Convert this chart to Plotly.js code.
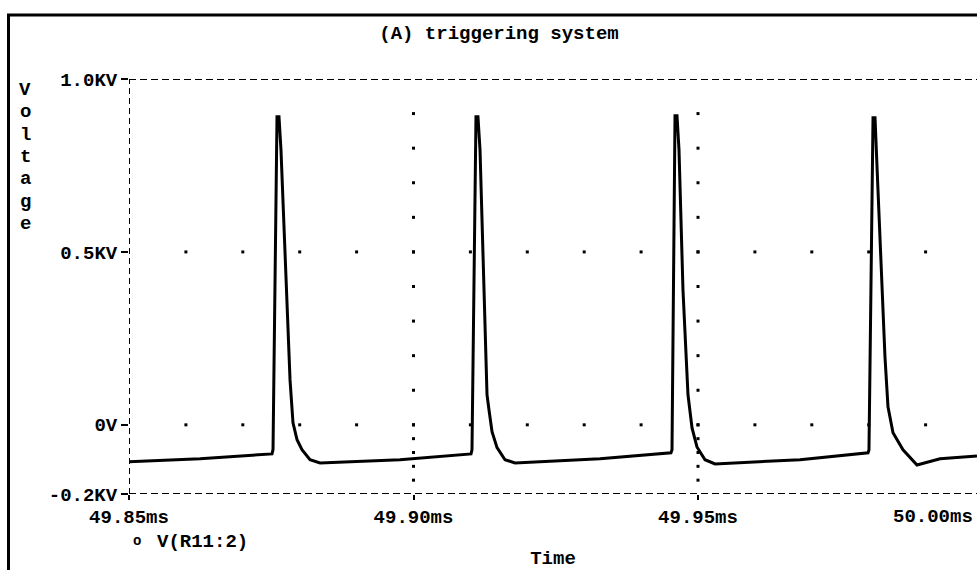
<!DOCTYPE html>
<html>
<head>
<meta charset="utf-8">
<script src="https://cdn.plot.ly/plotly-3.0.1.min.js"></script>
<style>
  html, body { margin: 0; padding: 0; background: #fff; overflow: hidden; }
  #chart { width: 977px; height: 570px; }
</style>
</head>
<body>
<div id="chart"></div>
<script>
// ---- data (time in ms, voltage in kV) ----
const time = [
  49.85000, 49.86248, 49.87513,
  49.87531, 49.87601, 49.87636, 49.87671, 49.87742, 49.87830, 49.87882, 49.87953, 49.88040, 49.88181, 49.88357,
  49.89763, 49.91011,
  49.91028, 49.91098, 49.91133, 49.91169, 49.91239, 49.91292, 49.91327, 49.91380, 49.91468, 49.91608, 49.91784,
  49.93278, 49.94525,
  49.94543, 49.94596, 49.94631, 49.94666, 49.94736, 49.94824, 49.94895, 49.94982, 49.95123, 49.95299,
  49.96793, 49.97988,
  49.98005, 49.98076, 49.98111, 49.98163, 49.98286, 49.98339, 49.98427, 49.98603, 49.98849,
  49.99253, 49.99903
];
const voltage = [
  -0.107, -0.098, -0.084,
  -0.072, 0.891, 0.891, 0.795, 0.500, 0.130, 0.006, -0.043, -0.072, -0.101, -0.110,
  -0.101, -0.084,
  -0.072, 0.891, 0.891, 0.795, 0.390, 0.087, 0.043, -0.020, -0.066, -0.101, -0.110,
  -0.098, -0.081,
  -0.072, 0.894, 0.894, 0.795, 0.390, 0.087, -0.009, -0.064, -0.101, -0.113,
  -0.101, -0.081,
  -0.072, 0.888, 0.888, 0.680, 0.197, 0.052, -0.023, -0.072, -0.116,
  -0.098, -0.090
];

// ---- axis ticks ----
const xTickVals = [49.85, 49.90, 49.95, 50.00];
const xTickText = ['49.85ms', '49.90ms', '49.95ms', '50.00ms'];
const yTickVals = [-0.2, 0, 0.5, 1.0];
const yTickText = ['-0.2KV', '0V', '0.5KV', '1.0KV'];
const xMinorVals = [49.86, 49.87, 49.88, 49.89, 49.90, 49.91, 49.92, 49.93, 49.94, 49.95, 49.96, 49.97, 49.98, 49.99];
const yMinorVals = [0.9, 0.8, 0.7, 0.6, 0.5, 0.4, 0.3, 0.2, 0.1, 0.0, -0.04, -0.08, -0.12, -0.16];
const yGridMajors = [0.5, 0.0];
const xGridMajors = [49.90, 49.95];

const titleText = '(A) triggering system';
const yTitleText = 'Voltage';
const xTitleText = 'Time';
const seriesName = 'V(R11:2)';

// ---- layout geometry ----
const W = 977, H = 570;
const mL = 129, mR = 0, mT = 79, mB = 76;
const plotW = W - mL - mR, plotH = H - mT - mB;
const pxPerMs = 5690;
const xStart = 49.85;
const xEnd = xStart + plotW / pxPerMs;

const FONT = 'Liberation Mono, DejaVu Sans Mono, monospace';
const fs = 19;
const tf = { family: FONT, size: fs, color: '#000', weight: 'bold' };

// grid dots: intersections of major lines with minor divisions
const dotX = [], dotY = [];
yGridMajors.forEach(yv => xMinorVals.forEach(xv => { dotX.push(xv); dotY.push(yv); }));
xGridMajors.forEach(xv => yMinorVals.forEach(yv => { dotX.push(xv); dotY.push(yv); }));

const traces = [
  {
    x: dotX, y: dotY, type: 'scatter', mode: 'markers',
    marker: { symbol: 'square', size: 3, color: '#000' },
    hoverinfo: 'skip', showlegend: false
  },
  {
    x: time, y: voltage, type: 'scatter', mode: 'lines', name: seriesName,
    line: { color: '#000', width: 3 }, showlegend: false
  }
];

const px2paperX = px => (px - mL) / plotW;
const px2paperY = py => (H - mB - py) / plotH;

const shapes = [
  // dashed axes box (left, top, bottom)
  { type: 'line', xref: 'x', yref: 'y', x0: xStart, x1: xStart, y0: -0.2, y1: 1.0,
    line: { color: '#000', width: 2, dash: '6px,4px' } },
  { type: 'line', xref: 'paper', yref: 'y', x0: 0, x1: 1, y0: 1.0, y1: 1.0,
    line: { color: '#000', width: 2, dash: '7px,4px' } },
  { type: 'line', xref: 'paper', yref: 'y', x0: 0, x1: 1, y0: -0.2, y1: -0.2,
    line: { color: '#000', width: 2, dash: '7px,4px' } },
  // outer frame
  { type: 'line', xref: 'paper', yref: 'paper', x0: px2paperX(8.5), x1: px2paperX(8.5), y0: px2paperY(14), y1: px2paperY(572),
    line: { color: '#000', width: 3 } },
  { type: 'line', xref: 'paper', yref: 'paper', x0: px2paperX(7), x1: px2paperX(980), y0: px2paperY(15), y1: px2paperY(15),
    line: { color: '#000', width: 3 } }
];

const annotations = [];
// stacked y-axis title
yTitleText.split('').forEach((ch, i) => {
  annotations.push({
    text: ch, xref: 'paper', yref: 'paper', x: px2paperX(25), y: px2paperY(90 + i * 22.3),
    xanchor: 'center', yanchor: 'middle', showarrow: false, font: tf
  });
});
// last x tick label (its tick lies just beyond the visible edge, so the label is pulled inside)
annotations.push({
  text: xTickText[3], xref: 'paper', yref: 'paper',
  x: px2paperX(975), y: px2paperY(517),
  xanchor: 'right', yanchor: 'middle', showarrow: false, font: tf
});
// legend entry
annotations.push({
  text: 'o', xref: 'paper', yref: 'paper', x: px2paperX(137), y: px2paperY(541),
  xanchor: 'center', yanchor: 'middle', showarrow: false,
  font: { family: FONT, size: 14, color: '#000', weight: 'bold' }
});
annotations.push({
  text: seriesName, xref: 'paper', yref: 'paper', x: px2paperX(155), y: px2paperY(542),
  xanchor: 'left', yanchor: 'middle', showarrow: false, font: tf
});

const layout = {
  width: W, height: H,
  margin: { l: mL, r: mR, t: mT, b: mB, pad: 0 },
  paper_bgcolor: '#fff', plot_bgcolor: '#fff',
  font: tf,
  title: {
    text: titleText, x: 499 / W, xanchor: 'center', xref: 'container',
    y: 1 - 32 / H, yanchor: 'middle', yref: 'container', font: tf
  },
  xaxis: {
    range: [xStart, xEnd], tickmode: 'array',
    tickvals: xTickVals.slice(0, 3), ticktext: xTickText.slice(0, 3),
    ticks: 'outside', ticklen: 5, tickwidth: 2, tickcolor: '#000',
    showgrid: false, zeroline: false, showline: false,
    tickfont: tf,
    title: { text: xTitleText, standoff: 22, font: tf },
    fixedrange: true
  },
  yaxis: {
    range: [-0.2, 1.0], tickmode: 'array',
    tickvals: yTickVals, ticktext: yTickText,
    ticks: 'outside', ticklen: 7, tickwidth: 2, tickcolor: '#000',
    showgrid: false, zeroline: false, showline: false,
    tickfont: tf,
    fixedrange: true
  },
  shapes: shapes,
  annotations: annotations,
  showlegend: false
};

Plotly.newPlot('chart', traces, layout, { displayModeBar: false, staticPlot: true });
</script>
</body>
</html>
